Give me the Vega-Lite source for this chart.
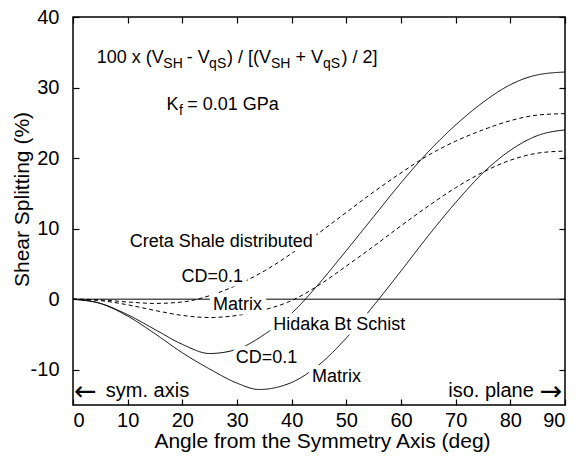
{
  "$schema": "https://vega.github.io/schema/vega-lite/v6.json",
  "width": 492,
  "height": 388,
  "autosize": {"type": "none"},
  "padding": {"left": 73, "top": 17, "right": 15, "bottom": 52},
  "background": "white",
  "config": {
    "font": "Liberation Sans",
    "view": {"stroke": "black", "strokeWidth": 1.5},
    "axis": {
      "domain": false,
      "grid": false,
      "tickColor": "black",
      "tickWidth": 1.2,
      "tickSize": -6,
      "labelColor": "black",
      "labelFont": "Liberation Sans",
      "labelFontSize": 20,
      "titleColor": "black",
      "titleFont": "Liberation Sans",
      "titleFontSize": 21,
      "titleFontWeight": "normal"
    }
  },
  "datasets": {
    "curves": [
      {"series": "Creta CD=0.1", "style": "dashed", "angle": 0, "split": 0},
      {"series": "Creta CD=0.1", "style": "dashed", "angle": 5, "split": -0.1},
      {"series": "Creta CD=0.1", "style": "dashed", "angle": 10, "split": -0.4},
      {"series": "Creta CD=0.1", "style": "dashed", "angle": 15, "split": -0.6},
      {"series": "Creta CD=0.1", "style": "dashed", "angle": 20, "split": -0.4},
      {"series": "Creta CD=0.1", "style": "dashed", "angle": 25, "split": 0.5},
      {"series": "Creta CD=0.1", "style": "dashed", "angle": 30, "split": 2.0},
      {"series": "Creta CD=0.1", "style": "dashed", "angle": 35, "split": 4.0},
      {"series": "Creta CD=0.1", "style": "dashed", "angle": 40, "split": 6.5},
      {"series": "Creta CD=0.1", "style": "dashed", "angle": 45, "split": 9.4},
      {"series": "Creta CD=0.1", "style": "dashed", "angle": 50, "split": 12.3},
      {"series": "Creta CD=0.1", "style": "dashed", "angle": 55, "split": 15.2},
      {"series": "Creta CD=0.1", "style": "dashed", "angle": 60, "split": 17.9},
      {"series": "Creta CD=0.1", "style": "dashed", "angle": 65, "split": 20.4},
      {"series": "Creta CD=0.1", "style": "dashed", "angle": 70, "split": 22.4},
      {"series": "Creta CD=0.1", "style": "dashed", "angle": 75, "split": 24.0},
      {"series": "Creta CD=0.1", "style": "dashed", "angle": 80, "split": 25.3},
      {"series": "Creta CD=0.1", "style": "dashed", "angle": 85, "split": 26.1},
      {"series": "Creta CD=0.1", "style": "dashed", "angle": 90, "split": 26.3},
      {"series": "Creta Matrix", "style": "dashed", "angle": 0, "split": 0},
      {"series": "Creta Matrix", "style": "dashed", "angle": 5, "split": -0.2},
      {"series": "Creta Matrix", "style": "dashed", "angle": 10, "split": -0.8},
      {"series": "Creta Matrix", "style": "dashed", "angle": 15, "split": -1.6},
      {"series": "Creta Matrix", "style": "dashed", "angle": 20, "split": -2.3},
      {"series": "Creta Matrix", "style": "dashed", "angle": 25, "split": -2.6},
      {"series": "Creta Matrix", "style": "dashed", "angle": 30, "split": -2.3},
      {"series": "Creta Matrix", "style": "dashed", "angle": 35, "split": -1.5},
      {"series": "Creta Matrix", "style": "dashed", "angle": 40, "split": -0.2},
      {"series": "Creta Matrix", "style": "dashed", "angle": 45, "split": 2.0},
      {"series": "Creta Matrix", "style": "dashed", "angle": 50, "split": 4.7},
      {"series": "Creta Matrix", "style": "dashed", "angle": 55, "split": 7.5},
      {"series": "Creta Matrix", "style": "dashed", "angle": 60, "split": 10.4},
      {"series": "Creta Matrix", "style": "dashed", "angle": 65, "split": 13.2},
      {"series": "Creta Matrix", "style": "dashed", "angle": 70, "split": 15.8},
      {"series": "Creta Matrix", "style": "dashed", "angle": 75, "split": 18.0},
      {"series": "Creta Matrix", "style": "dashed", "angle": 80, "split": 19.7},
      {"series": "Creta Matrix", "style": "dashed", "angle": 85, "split": 20.7},
      {"series": "Creta Matrix", "style": "dashed", "angle": 90, "split": 21.0},
      {"series": "Hidaka CD=0.1", "style": "solid", "angle": 0, "split": 0},
      {"series": "Hidaka CD=0.1", "style": "solid", "angle": 5, "split": -0.6},
      {"series": "Hidaka CD=0.1", "style": "solid", "angle": 10, "split": -2.2},
      {"series": "Hidaka CD=0.1", "style": "solid", "angle": 15, "split": -4.3},
      {"series": "Hidaka CD=0.1", "style": "solid", "angle": 20, "split": -6.4},
      {"series": "Hidaka CD=0.1", "style": "solid", "angle": 25, "split": -7.7},
      {"series": "Hidaka CD=0.1", "style": "solid", "angle": 30, "split": -7.1},
      {"series": "Hidaka CD=0.1", "style": "solid", "angle": 35, "split": -5.0},
      {"series": "Hidaka CD=0.1", "style": "solid", "angle": 40, "split": -2.0},
      {"series": "Hidaka CD=0.1", "style": "solid", "angle": 45, "split": 2.2},
      {"series": "Hidaka CD=0.1", "style": "solid", "angle": 50, "split": 6.9},
      {"series": "Hidaka CD=0.1", "style": "solid", "angle": 55, "split": 11.7},
      {"series": "Hidaka CD=0.1", "style": "solid", "angle": 60, "split": 16.5},
      {"series": "Hidaka CD=0.1", "style": "solid", "angle": 65, "split": 20.9},
      {"series": "Hidaka CD=0.1", "style": "solid", "angle": 70, "split": 24.7},
      {"series": "Hidaka CD=0.1", "style": "solid", "angle": 75, "split": 27.9},
      {"series": "Hidaka CD=0.1", "style": "solid", "angle": 80, "split": 30.4},
      {"series": "Hidaka CD=0.1", "style": "solid", "angle": 85, "split": 31.8},
      {"series": "Hidaka CD=0.1", "style": "solid", "angle": 90, "split": 32.2},
      {"series": "Hidaka Matrix", "style": "solid", "angle": 0, "split": 0},
      {"series": "Hidaka Matrix", "style": "solid", "angle": 5, "split": -0.6},
      {"series": "Hidaka Matrix", "style": "solid", "angle": 10, "split": -2.4},
      {"series": "Hidaka Matrix", "style": "solid", "angle": 15, "split": -4.9},
      {"series": "Hidaka Matrix", "style": "solid", "angle": 20, "split": -7.6},
      {"series": "Hidaka Matrix", "style": "solid", "angle": 25, "split": -9.9},
      {"series": "Hidaka Matrix", "style": "solid", "angle": 30, "split": -11.9},
      {"series": "Hidaka Matrix", "style": "solid", "angle": 34, "split": -12.8},
      {"series": "Hidaka Matrix", "style": "solid", "angle": 40, "split": -11.8},
      {"series": "Hidaka Matrix", "style": "solid", "angle": 45, "split": -9.3},
      {"series": "Hidaka Matrix", "style": "solid", "angle": 50, "split": -5.5},
      {"series": "Hidaka Matrix", "style": "solid", "angle": 55, "split": -0.9},
      {"series": "Hidaka Matrix", "style": "solid", "angle": 60, "split": 4.0},
      {"series": "Hidaka Matrix", "style": "solid", "angle": 65, "split": 9.0},
      {"series": "Hidaka Matrix", "style": "solid", "angle": 70, "split": 13.7},
      {"series": "Hidaka Matrix", "style": "solid", "angle": 75, "split": 17.9},
      {"series": "Hidaka Matrix", "style": "solid", "angle": 80, "split": 21.1},
      {"series": "Hidaka Matrix", "style": "solid", "angle": 85, "split": 23.2},
      {"series": "Hidaka Matrix", "style": "solid", "angle": 90, "split": 24.0}
    ],
    "zero": [{"angle": 0, "split": 0}],
    "curveLabels": [
      {"angle": 10.38, "split": 7.46, "t": "Creta Shale distributed"},
      {"angle": 19.84, "split": 2.5, "t": "CD=0.1"},
      {"angle": 25.63, "split": -1.52, "t": "Matrix"},
      {"angle": 36.61, "split": -4.35, "t": "Hidaka Bt Schist"},
      {"angle": 29.78, "split": -9.08, "t": "CD=0.1"},
      {"angle": 43.73, "split": -11.69, "t": "Matrix"}
    ],
    "leftNotes": [
      {"angle": 6.0, "split": -13.82, "t": "sym. axis"}
    ],
    "rightNotes": [
      {"angle": 84.3, "split": -13.82, "t": "iso. plane"}
    ],
    "leftArrow": [
      {"angle": 0.2, "split": -13.1, "t": "←"}
    ],
    "rightArrow": [
      {"angle": 89.5, "split": -13.1, "t": "→"}
    ],
    "formulaMain": [
      {"angle": 4.34, "split": 33.48, "t": "100 x (V"},
      {"angle": 20.83, "split": 33.48, "t": "- V"},
      {"angle": 28.17, "split": 33.48, "t": ") / [(V"},
      {"angle": 40.69, "split": 33.48, "t": "+ V"},
      {"angle": 49.1, "split": 33.48, "t": ") / 2]"},
      {"angle": 17.1, "split": 26.85, "t": "K"},
      {"angle": 20.9, "split": 26.85, "t": "= 0.01 GPa"}
    ],
    "formulaSub": [
      {"angle": 16.53, "split": 32.77, "t": "SH"},
      {"angle": 24.9, "split": 32.77, "t": "qS"},
      {"angle": 36.22, "split": 32.77, "t": "SH"},
      {"angle": 45.73, "split": 32.77, "t": "qS"},
      {"angle": 19.4, "split": 26.14, "t": "f"}
    ]
  },
  "resolve": {"axis": {"x": "independent", "y": "independent"}},
  "layer": [
    {
      "data": {"name": "curves"},
      "mark": {"type": "line", "interpolate": "monotone", "color": "black", "strokeWidth": 1},
      "encoding": {
        "x": {
          "field": "angle", "type": "quantitative",
          "scale": {"domain": [0, 90], "nice": false, "zero": false},
          "axis": {
            "orient": "bottom",
            "values": [0, 10, 20, 30, 40, 50, 60, 70, 80, 90],
            "labelPadding": 11,
            "title": "Angle from the Symmetry Axis (deg)",
            "titleX": 249,
            "titleY": 42,
            "titleBaseline": "alphabetic"
          }
        },
        "y": {
          "field": "split", "type": "quantitative",
          "scale": {"domain": [-15, 40], "nice": false, "zero": false},
          "axis": {
            "orient": "left",
            "values": [-10, 0, 10, 20, 30, 40],
            "labelPadding": 20,
            "labelExpr": "replace(datum.label, '−', '-')",
            "title": "Shear Splitting (%)",
            "titleX": -51,
            "titleY": 182,
            "titleBaseline": "middle",
            "titleAngle": -90
          }
        },
        "detail": {"field": "series"},
        "strokeDash": {
          "field": "style", "type": "nominal",
          "scale": {"domain": ["solid", "dashed"], "range": [[1, 0], [4, 3]]},
          "legend": null
        }
      }
    },
    {
      "data": {"name": "zero"},
      "mark": {"type": "rule", "color": "black", "strokeWidth": 1},
      "encoding": {
        "y": {"field": "split", "type": "quantitative", "axis": null}
      }
    },
    {
      "data": {"name": "zero"},
      "mark": {"type": "point", "opacity": 0},
      "encoding": {
        "x": {
          "field": "angle", "type": "quantitative",
          "axis": {"orient": "top", "values": [0, 10, 20, 30, 40, 50, 60, 70, 80, 90], "labels": false, "title": null}
        },
        "y": {
          "field": "split", "type": "quantitative",
          "axis": {"orient": "right", "values": [-10, 0, 10, 20, 30, 40], "labels": false, "title": null}
        }
      }
    },
    {
      "data": {"name": "curveLabels"},
      "mark": {"type": "text", "align": "left", "baseline": "alphabetic", "fontSize": 18, "font": "Liberation Sans", "fill": "white", "stroke": "white", "strokeWidth": 9, "strokeJoin": "round"},
      "encoding": {
        "x": {"field": "angle", "type": "quantitative", "axis": null},
        "y": {"field": "split", "type": "quantitative", "axis": null},
        "text": {"field": "t"}
      }
    },
    {
      "data": {"name": "curveLabels"},
      "mark": {"type": "text", "align": "left", "baseline": "alphabetic", "fontSize": 18, "font": "Liberation Sans", "color": "black"},
      "encoding": {
        "x": {"field": "angle", "type": "quantitative", "axis": null},
        "y": {"field": "split", "type": "quantitative", "axis": null},
        "text": {"field": "t"}
      }
    },
    {
      "data": {"name": "leftNotes"},
      "mark": {"type": "text", "align": "left", "baseline": "alphabetic", "fontSize": 20, "font": "Liberation Sans", "color": "black"},
      "encoding": {
        "x": {"field": "angle", "type": "quantitative", "axis": null},
        "y": {"field": "split", "type": "quantitative", "axis": null},
        "text": {"field": "t"}
      }
    },
    {
      "data": {"name": "rightNotes"},
      "mark": {"type": "text", "align": "right", "baseline": "alphabetic", "fontSize": 20, "font": "Liberation Sans", "color": "black"},
      "encoding": {
        "x": {"field": "angle", "type": "quantitative", "axis": null},
        "y": {"field": "split", "type": "quantitative", "axis": null},
        "text": {"field": "t"}
      }
    },
    {
      "data": {"name": "leftArrow"},
      "mark": {"type": "text", "align": "left", "baseline": "middle", "fontSize": 27, "font": "DejaVu Sans", "color": "black"},
      "encoding": {
        "x": {"field": "angle", "type": "quantitative", "axis": null},
        "y": {"field": "split", "type": "quantitative", "axis": null},
        "text": {"field": "t"}
      }
    },
    {
      "data": {"name": "rightArrow"},
      "mark": {"type": "text", "align": "right", "baseline": "middle", "fontSize": 27, "font": "DejaVu Sans", "color": "black"},
      "encoding": {
        "x": {"field": "angle", "type": "quantitative", "axis": null},
        "y": {"field": "split", "type": "quantitative", "axis": null},
        "text": {"field": "t"}
      }
    },
    {
      "data": {"name": "formulaMain"},
      "mark": {"type": "text", "align": "left", "baseline": "alphabetic", "fontSize": 18, "font": "Liberation Sans", "color": "black"},
      "encoding": {
        "x": {"field": "angle", "type": "quantitative", "axis": null},
        "y": {"field": "split", "type": "quantitative", "axis": null},
        "text": {"field": "t"}
      }
    },
    {
      "data": {"name": "formulaSub"},
      "mark": {"type": "text", "align": "left", "baseline": "alphabetic", "fontSize": 14, "font": "Liberation Sans", "color": "black"},
      "encoding": {
        "x": {"field": "angle", "type": "quantitative", "axis": null},
        "y": {"field": "split", "type": "quantitative", "axis": null},
        "text": {"field": "t"}
      }
    }
  ]
}
